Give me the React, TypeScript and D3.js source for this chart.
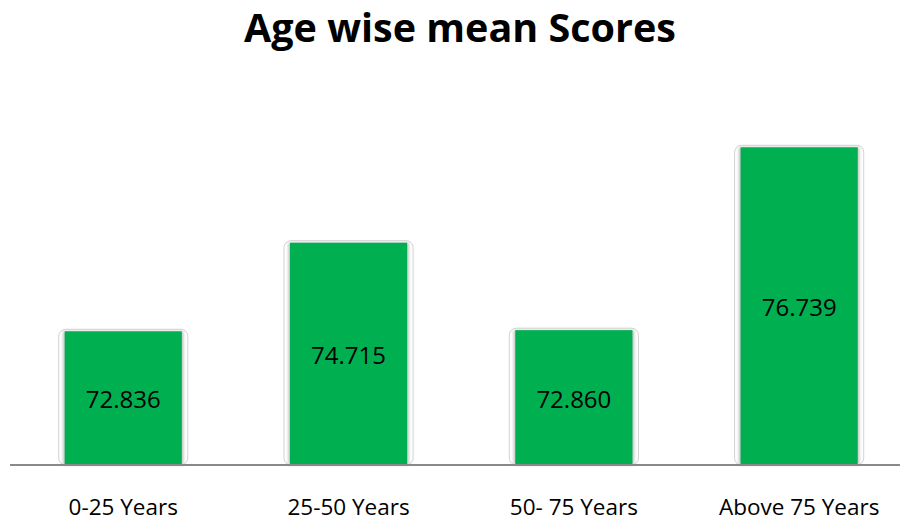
import React from "react";
import * as d3 from "d3";

const categories: string[] = ["0-25 Years", "25-50 Years", "50- 75 Years", "Above 75 Years"];
const meanScores: number[] = [72.836, 74.715, 72.86, 76.739];
const valueLabels: string[] = ["72.836", "74.715", "72.860", "76.739"];
const chartTitle = "Age wise mean Scores";
const yMin = 70;

const W = 900;
const H = 521;
const baseY = 465;
const font = "'Open Sans', Lato, sans-serif";

export default function App() {
  const x = d3.scaleBand<string>().domain(categories).range([10.6, 911.8]).paddingInner(0.48).paddingOuter(0.24);
  const y = d3.scaleLinear().domain([yMin, 76.739]).range([baseY, 147.3]);

  return (
    <svg width={W} height={H} style={{ position: "absolute", left: 0, top: 0, background: "#fff" }}>
      <defs>
        <filter id="soft" x="-20%" y="-20%" width="140%" height="140%">
          <feGaussianBlur stdDeviation="1.6" />
        </filter>
      </defs>
      <rect width={W} height={H} fill="#fff" />
      <text x={460} y={42} textAnchor="middle" fontFamily={font} fontWeight={700} fontSize={39.5} fill="#000">
        {chartTitle}
      </text>
      {categories.map((c, i) => {
        const bx = x(c)!;
        const bw = x.bandwidth();
        const top = y(meanScores[i]);
        return (
          <g key={c}>
            <rect x={bx - 6} y={top - 2} width={bw + 12} height={baseY - top + 2} rx={7} fill="#fff" stroke="#d2d2d2" strokeWidth={1} />
            <rect x={bx - 1.5} y={top} width={bw + 3} height={baseY - top} fill="#bdbdbd" filter="url(#soft)" />
            <rect x={bx} y={top} width={bw} height={baseY - top} fill="#00B050" />
            <text x={bx + bw / 2} y={(top + baseY) / 2 + 10} textAnchor="middle" fontFamily={font} fontSize={24} fill="#000">
              {valueLabels[i]}
            </text>
            <text x={bx + bw / 2} y={515} textAnchor="middle" fontFamily={font} fontSize={22.5} fill="#000">
              {c}
            </text>
          </g>
        );
      })}
      <line x1={10} x2={W} y1={baseY} y2={baseY} stroke="#898989" strokeWidth={2} />
    </svg>
  );
}
